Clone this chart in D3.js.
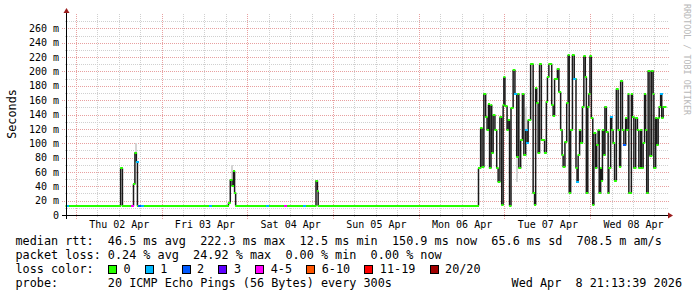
<!DOCTYPE html>
<html>
<head>
<meta charset="utf-8">
<script src="https://cdn.jsdelivr.net/npm/d3@7"></script>
<style>
body{margin:0;background:#fff;}
svg text{font-family:"DejaVu Sans Mono",monospace;}
</style>
</head>
<body>
<div id="viz-container"></div>
<script>
// hours since window start (Wed Apr 1 21:13:39) and median rtt in ms
var medHours = [0,15.3,15.8,18.9,19.3,19.7,20.0,45.5,46.0,46.5,46.9,47.2,47.5,70.0,70.4,70.6,
 115.5,116.1,116.5,117.0,117.5,117.9,118.3,118.6,119.0,119.2,119.6,120.1,120.6,121.0,121.5,122.0,122.4,122.6,122.9,
 123.5,123.8,124.2,124.6,125.2,125.7,126.2,126.6,126.8,127.3,127.8,128.2,128.7,129.1,129.4,130.1,130.8,131.2,131.5,
 131.8,132.2,132.6,133.1,134.0,134.5,134.8,135.2,136.0,136.4,136.8,137.6,138.0,138.5,138.9,139.2,139.7,140.2,140.6,
 140.9,141.3,141.8,142.3,142.8,143.1,143.4,143.8,144.1,144.6,145.0,145.4,145.7,146.1,146.4,146.7,147.1,147.5,147.8,
 148.3,148.6,149.0,149.3,149.7,149.9,150.2,150.6,150.9,151.3,151.8,152.0,152.5,152.8,153.2,153.6,154.1,154.6,155.0,
 155.3,155.8,156.2,156.7,157.0,157.4,157.6,158.3,158.6,159.0,159.5,160.0,160.4,160.9,161.2,161.6,162.0,162.3,162.6,
 163.0,163.5,164.0,164.4,164.6,165.1,165.4,165.8,166.1,166.5,166.8,167.2];
var medMs = [13,65,13,43,87,74,13,17,49,40,61,31,13,48,33,13,
 65,121,67,169,136,118,154,65,153,86,139,118,65,46,136,14,153,192,152,
 118,133,13,149,202,169,81,169,65,104,169,83,118,100,132,210,30,14,177,
 156,86,210,104,87,158,192,210,153,138,190,204,171,119,83,67,102,156,223,
 31,118,223,190,65,46,83,118,100,151,221,192,30,151,169,221,135,14,114,
 65,97,118,30,65,48,118,83,151,116,30,65,137,118,100,48,175,119,67,
 187,118,97,135,118,168,30,168,137,65,135,118,65,118,65,100,168,118,30,
 201,82,201,169,65,135,97,135,151,168,135,151];

// packet loss events: hour, lost pings out of 20
var lossHours = [0.3,18.5,19.9,20.3,21.3,40.3,56.3,61.2,66.6,125.7,128.7,129.1,142.3,143.1,152.5,156.2,166.5];
var lossCount = [1,4,1,2,1,1,1,4,1,1,1,1,1,1,1,2,1];

// faint smoke (spread of the pings): hour, low ms, high ms
var smokeHours = [19.7,46.6,126.2,128.9];
var smokeLo = [74,49,46,118];
var smokeHi = [100,70,81,150];

var yTicks = [0,20,40,60,80,100,120,140,160,180,200,220,240,260];
var lossLabels = ["0","1","2","3","4-5","6-10","11-19","20/20"];
var lossColors = ["#26ff00","#00b8ff","#0059ff","#5e00ff","#ff00fc","#ff5500","#ff0000","#a10000"];
var rttValues = ["46.5 ms","222.3 ms","12.5 ms","150.9 ms","65.6 ms","708.5 m"];
var rttNames = ["avg","max","min","now","sd","am/s"];
var plValues = ["0.24 %","24.92 %","0.00 %","0.00 %"];
var plNames = ["avg","max","min","now"];
var probeText = "20 ICMP Echo Pings (56 Bytes) every 300s";
var stampText = "Wed Apr  8 21:13:39 2026";

var t0 = new Date(Date.UTC(2026,3,1,21,13,39));
var t1 = new Date(Date.UTC(2026,3,8,21,13,39));
function hd(h){ return new Date(t0.getTime()+h*3600e3); }

var svg = d3.select("#viz-container").append("svg")
  .attr("width",697).attr("height",297);

var x = d3.scaleTime().domain([t0,t1]).range([66,666]);
var y = d3.scaleLinear().domain([0,280]).range([215,14]);

// grid
var grid = svg.append("g").attr("shape-rendering","crispEdges");
d3.range(10,280,10).forEach(function(v){
  var major = v%20===0;
  grid.append("line")
    .attr("x1",major?62:65).attr("x2",669)
    .attr("y1",Math.round(y(v))+0.5).attr("y2",Math.round(y(v))+0.5)
    .attr("stroke",major?"#e8a0a0":"#d0d0d0").attr("stroke-dasharray","1,1");
});
d3.utcHour.every(6).range(t0,t1).forEach(function(d){
  var major = d.getUTCHours()===0;
  grid.append("line")
    .attr("x1",Math.round(x(d))+0.5).attr("x2",Math.round(x(d))+0.5)
    .attr("y1",14).attr("y2",major?219:217)
    .attr("stroke",major?"#e8a0a0":"#d0d0d0").attr("stroke-dasharray","1,1");
});

// smoke
var marks = svg.append("g");
marks.selectAll(".smoke").data(smokeHours).enter().append("rect")
  .attr("class","smoke")
  .attr("x",function(h){return Math.round(x(hd(h)))-1;})
  .attr("width",2)
  .attr("y",function(h,i){return y(smokeHi[i]);})
  .attr("height",function(h,i){return y(smokeLo[i])-y(smokeHi[i]);})
  .attr("fill","#d4d4d4").attr("shape-rendering","crispEdges");

// dark transitions between consecutive medians
var pts = medHours.map(function(h,i){return {t:hd(h),v:medMs[i]};});
marks.selectAll(".jump").data(pts.slice(1)).enter().append("line")
  .attr("class","jump")
  .attr("x1",function(d){return x(d.t);})
  .attr("x2",function(d){return x(d.t);})
  .attr("y1",function(d,i){return y(pts[i].v);})
  .attr("y2",function(d){return y(d.v);})
  .attr("stroke","#1a1a1a").attr("stroke-width",1.5);

// median steps coloured by loss
marks.selectAll(".med").data(pts).enter().append("line")
  .attr("class","med")
  .attr("x1",function(d){return x(d.t)-0.5;})
  .attr("x2",function(d,i){return x(i<pts.length-1?pts[i+1].t:t1)+0.5;})
  .attr("y1",function(d){return Math.round(y(d.v));})
  .attr("y2",function(d){return Math.round(y(d.v));})
  .attr("stroke",lossColors[0]).attr("stroke-width",2);

function lossIndex(c){ return c>=20?7:c>=11?6:c>=6?5:c>=4?4:c; }
var bis = d3.bisector(function(d){return d;}).right;
marks.selectAll(".loss").data(lossHours).enter().append("line")
  .attr("class","loss")
  .attr("x1",function(h){return Math.round(x(hd(h)))-1;})
  .attr("x2",function(h){return Math.round(x(hd(h)))+2;})
  .attr("y1",function(h){return Math.round(y(medMs[bis(medHours,h)-1]));})
  .attr("y2",function(h){return Math.round(y(medMs[bis(medHours,h)-1]));})
  .attr("stroke",function(h,i){return lossColors[lossIndex(lossCount[i])];})
  .attr("stroke-width",2);

// axes lines with arrows
var ax = svg.append("g").attr("shape-rendering","crispEdges");
ax.append("line").attr("x1",62).attr("x2",669).attr("y1",215.5).attr("y2",215.5).attr("stroke","#000");
ax.append("line").attr("x1",66.5).attr("x2",66.5).attr("y1",219).attr("y2",12).attr("stroke","#000");
svg.append("path").attr("d","M668,212.5L673,215.5L668,218.5Z").attr("fill","#9a1c1c");
svg.append("path").attr("d","M63.5,13L66.5,8L69.5,13Z").attr("fill","#9a1c1c");

// tick labels
var yAxis = svg.append("g").attr("transform","translate(59,0)")
  .call(d3.axisLeft(y).tickValues(yTicks).tickSize(0).tickPadding(0)
    .tickFormat(function(v){return v? v+" m":"0";}));
yAxis.select(".domain").remove();
yAxis.selectAll("text").attr("font-family","DejaVu Sans Mono").attr("font-size","10px").attr("fill","#000");

var noons = d3.utcDay.range(t0,t1).map(function(d){return d3.utcHour.offset(d,12);});
var xAxis = svg.append("g").attr("transform","translate(0,215)")
  .call(d3.axisBottom(x).tickValues(noons).tickSize(0).tickPadding(6)
    .tickFormat(d3.utcFormat("%a %d %b")));
xAxis.select(".domain").remove();
xAxis.selectAll("text").attr("font-family","DejaVu Sans Mono").attr("font-size","10px").attr("fill","#000");

svg.append("text").attr("transform","translate(15.5,114) rotate(-90)")
  .attr("text-anchor","middle").attr("font-size","11.8px").text("Seconds");
svg.append("text").attr("transform","translate(684,4) rotate(90)")
  .attr("font-size","9px").attr("fill","#b8b8b8")
  .attr("textLength",111).attr("lengthAdjust","spacingAndGlyphs")
  .text("RRDTOOL / TOBI OETIKER");

// legend
var fs = 11.8, cw = fs*0.602;
function leg(txt,yy,xx,anchor){
  return svg.append("text").attr("x",xx||15.5).attr("y",yy)
    .attr("font-size",fs+"px").attr("xml:space","preserve").style("white-space","pre")
    .attr("text-anchor",anchor||"start").text(txt);
}
leg("median rtt:  "+rttValues.map(function(v,i){return v+" "+rttNames[i];}).join("  "),245);
leg("packet loss: "+plValues.map(function(v,i){return v+" "+plNames[i];}).join("  "),259);
leg("loss color:",273);
leg("probe:       "+probeText,287);
leg(stampText,287,682,"end");

var bx = 108.5;
lossLabels.forEach(function(lab,i){
  svg.append("rect").attr("x",bx).attr("y",265.5).attr("width",8).attr("height",8)
    .attr("fill",lossColors[i]).attr("stroke","#000").attr("shape-rendering","crispEdges");
  leg(lab,273,bx+15);
  bx = bx+15+lab.length*cw+14.7;
});
</script>
</body>
</html>
